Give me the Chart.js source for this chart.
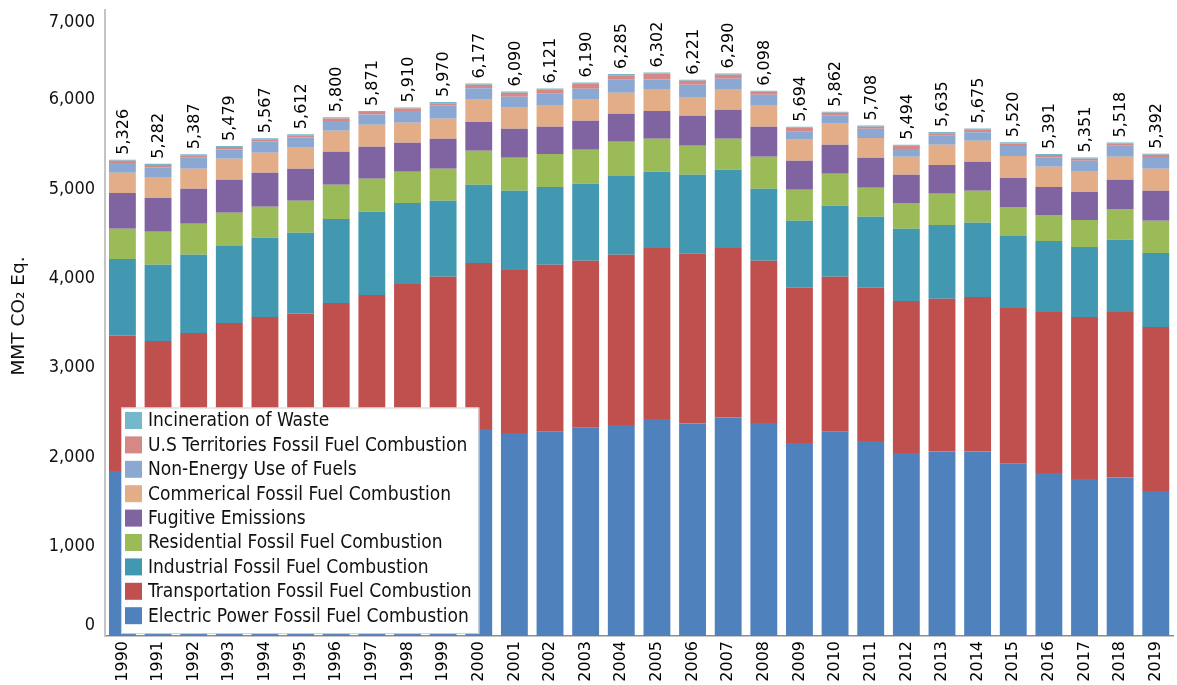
<!DOCTYPE html>
<html>
<head>
<meta charset="utf-8">
<script src="https://cdn.jsdelivr.net/npm/chart.js@4.4.1/dist/chart.umd.min.js"></script>
<style>
  html, body { margin: 0; padding: 0; background: #fff; overflow: hidden; }
  #wrap { width: 1177px; height: 685px; overflow: hidden; }
  canvas { display: block; }
</style>
</head>
<body>
<div id="wrap"><canvas id="chart" width="1180" height="685"></canvas></div>
<script>
// Energy-sector greenhouse gas emissions by source, MMT CO2 Eq.
const years = ['1990','1991','1992','1993','1994','1995','1996','1997','1998','1999',
               '2000','2001','2002','2003','2004','2005','2006','2007','2008','2009',
               '2010','2011','2012','2013','2014','2015','2016','2017','2018','2019'];

const electricPower = [1846,1830,1850,1925,1955,1975,2055,2120,2210,2230,
                       2315,2271,2285,2330,2360,2427,2375,2442,2383,2159,
                       2285,2181,2047,2062,2062,1927,1823,1756,1771,1622];
const transportation = [1513,1470,1539,1576,1613,1630,1670,1694,1727,1786,
                        1857,1823,1865,1865,1902,1913,1898,1898,1812,1734,
                        1731,1712,1700,1708,1730,1742,1801,1812,1853,1834];
const industrial = [858,850,873,861,884,903,939,929,906,850,
                    873,884,872,861,883,850,884,873,805,749,
                    794,794,806,827,828,805,794,783,806,828];
const residential = [336,369,347,370,347,358,381,369,347,358,
                     380,369,369,380,381,369,324,346,358,347,
                     358,324,290,347,358,324,291,302,346,358];
const fugitive = [402,380,391,369,380,358,369,358,325,335,
                  324,324,303,325,313,313,336,325,336,324,
                  324,336,314,324,324,324,313,313,325,336];
const commercial = [224,224,224,235,224,235,235,246,223,224,
                    247,235,234,235,235,235,201,223,234,235,
                    235,223,201,224,235,246,224,235,257,246];
const nonEnergyUse = [110,120,125,105,129,115,110,116,134,152,
                      129,123,135,123,145,117,145,123,123,90,
                      90,101,89,101,96,112,107,113,123,132];
const territories = [26,25,26,26,24,26,29,27,26,23,
                     38,47,44,55,52,65,45,45,34,44,
                     33,23,34,28,28,27,25,24,22,24];
const incineration = [11,14,12,12,11,12,12,12,12,12,
                      14,14,14,16,14,13,13,15,13,12,
                      12,14,13,14,14,13,13,13,15,12];

const yTickValues = [0,1000,2000,3000,4000,5000,6000,7000];
const yTitle = 'MMT CO\u2082 Eq.';

// Stack order, bottom to top
const series = [
  { label: 'Electric Power Fossil Fuel Combustion',  data: electricPower,  color: '#4F81BD' },
  { label: 'Transportation Fossil Fuel Combustion',  data: transportation, color: '#C0504D' },
  { label: 'Industrial Fossil Fuel Combustion',      data: industrial,     color: '#4298B0' },
  { label: 'Residential Fossil Fuel Combustion',     data: residential,    color: '#9BBB59' },
  { label: 'Fugitive Emissions',                     data: fugitive,       color: '#8064A2' },
  { label: 'Commerical Fossil Fuel Combustion',      data: commercial,     color: '#E3AE87' },
  { label: 'Non-Energy Use of Fuels',                data: nonEnergyUse,   color: '#8AA8D2' },
  { label: 'U.S Territories Fossil Fuel Combustion', data: territories,    color: '#D58886' },
  { label: 'Incineration of Waste',                  data: incineration,   color: '#74B8CB' }
];

const AXIS_FONT = "'DejaVu Sans Condensed', 'DejaVu Sans', sans-serif";
const DATA_FONT = "'DejaVu Sans', sans-serif";

function stackTotal(i) {
  return series.reduce((s, d) => s + d.data[i], 0);
}

// Value labels above each stacked column
const totalsPlugin = {
  id: 'totals',
  afterDatasetsDraw(chart) {
    const { ctx, scales: { x, y } } = chart;
    ctx.save();
    ctx.font = '16px ' + DATA_FONT;
    ctx.fillStyle = '#000';
    ctx.textAlign = 'left';
    ctx.textBaseline = 'middle';
    years.forEach((yr, i) => {
      const total = stackTotal(i);
      const px = x.getPixelForValue(i);
      const py = y.getPixelForValue(total);
      ctx.save();
      ctx.translate(px + 1, py - 5);
      ctx.rotate(-Math.PI / 2);
      ctx.fillText(total.toLocaleString('en-US'), 0, 0);
      ctx.restore();
    });
    ctx.restore();
  }
};

// Value-axis labels and title, kept inside the axis span
const yAxisTextPlugin = {
  id: 'yAxisText',
  afterDraw(chart) {
    const { ctx, chartArea, scales: { y } } = chart;
    ctx.save();
    ctx.font = '18px ' + AXIS_FONT;
    ctx.fillStyle = '#111';
    ctx.textAlign = 'right';
    ctx.textBaseline = 'middle';
    yTickValues.forEach(v => {
      let py = y.getPixelForValue(v);
      py = Math.min(Math.max(py, chartArea.top + 12), chartArea.bottom - 11);
      ctx.fillText(v.toLocaleString('en-US'), 95, py);
    });
    ctx.font = '18.5px ' + DATA_FONT;
    ctx.textAlign = 'center';
    ctx.translate(19, 316);
    ctx.rotate(-Math.PI / 2);
    ctx.fillText(yTitle, 0, 0);
    ctx.restore();
  }
};

// Boxed legend over the lower-left of the plot, top of stack listed first
const legendBoxPlugin = {
  id: 'legendBox',
  afterDraw(chart) {
    const { ctx } = chart;
    const items = chart.data.datasets.slice().reverse();
    const left = 121, top = 407.5, rowH = 24.4, sw = 17, textX = 148;
    ctx.save();
    ctx.font = '19px ' + AXIS_FONT;
    const maxW = Math.max(...items.map(d => ctx.measureText(d.label).width));
    const w = textX - left + maxW + 7;
    const h = items.length * rowH + 6;
    ctx.fillStyle = '#fff';
    ctx.fillRect(left, top, w, h);
    ctx.strokeStyle = '#D0D0D0';
    ctx.lineWidth = 1;
    ctx.strokeRect(left + 0.5, top + 0.5, w, h);
    ctx.textAlign = 'left';
    ctx.textBaseline = 'middle';
    items.forEach((d, k) => {
      const cy = top + 13 + k * rowH;
      ctx.fillStyle = d.backgroundColor;
      ctx.fillRect(125, cy - sw / 2, sw, sw);
      ctx.fillStyle = '#111';
      ctx.fillText(d.label, textX, cy + 1);
    });
    ctx.restore();
  }
};

new Chart(document.getElementById('chart'), {
  type: 'bar',
  data: {
    labels: years,
    datasets: series.map(s => ({
      label: s.label,
      data: s.data,
      backgroundColor: s.color,
      borderWidth: 0,
      barPercentage: 0.754,
      categoryPercentage: 1.0
    }))
  },
  options: {
    responsive: false,
    animation: false,
    devicePixelRatio: 1,
    layout: { padding: { top: 10, right: 1, left: 0, bottom: 0 } },
    plugins: {
      legend: { display: false },
      tooltip: { enabled: false }
    },
    scales: {
      x: {
        stacked: true,
        grid: { display: false, drawTicks: false },
        border: { display: true, color: '#8C8C8C', width: 1.5 },
        ticks: {
          font: { family: DATA_FONT, size: 16 },
          color: '#000',
          minRotation: 90,
          maxRotation: 90,
          autoSkip: false,
          padding: 5
        },
        afterFit(axis) { axis.height = 49; }
      },
      y: {
        stacked: true,
        min: 0,
        max: 7000,
        grid: { display: false, drawTicks: false },
        border: { display: true, color: '#C4C4C4', width: 2 },
        ticks: { display: false, stepSize: 1000 },
        afterFit(axis) { axis.width = 104.6; }
      }
    }
  },
  plugins: [totalsPlugin, yAxisTextPlugin, legendBoxPlugin]
});
</script>
</body>
</html>
